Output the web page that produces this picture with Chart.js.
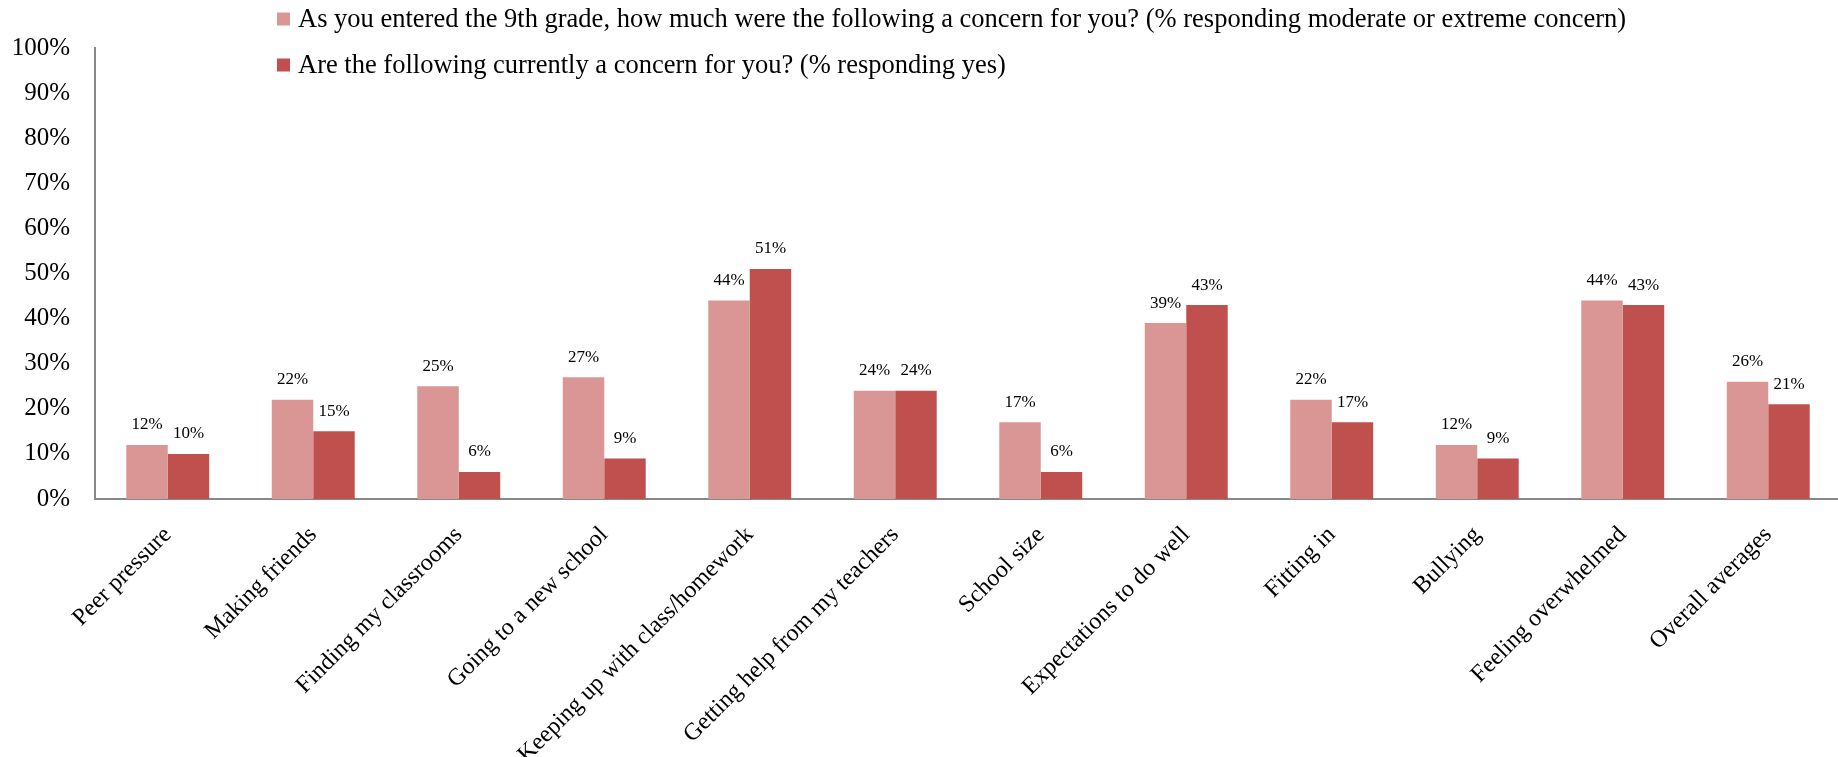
<!DOCTYPE html>
<html>
<head>
<meta charset="utf-8">
<script src="https://cdn.jsdelivr.net/npm/chart.js@4"></script>
<style>
    html, body { margin: 0; padding: 0; background: #fff; overflow: hidden; }
    .wrap { width: 1838px; height: 757px; overflow: hidden; }
    .box { width: 1841px; height: 757px; }
</style>
</head>
<body>
<div class="wrap"><div class="box"><canvas id="concernChart"></canvas></div></div>
<script>
const categories = ['Peer pressure', 'Making friends', 'Finding my classrooms', 'Going to a new school',
    'Keeping up with class/homework', 'Getting help from my teachers', 'School size',
    'Expectations to do well', 'Fitting in', 'Bullying', 'Feeling overwhelmed', 'Overall averages'];
const enteredLabel = 'As you entered the 9th grade, how much were the following a concern for you? (% responding moderate or extreme concern)';
const currentLabel = 'Are the following currently a concern for you? (% responding yes)';
const enteredValues = [12, 22, 25, 27, 44, 24, 17, 39, 22, 12, 44, 26];
const currentValues = [10, 15, 6, 9, 51, 24, 6, 43, 17, 9, 43, 21];
const yTicks = [0, 10, 20, 30, 40, 50, 60, 70, 80, 90, 100];

const serif = '"Liberation Serif", "Times New Roman", serif';

// Value labels above each bar
const valueLabels = {
    id: 'valueLabels',
    afterDatasetsDraw(chart) {
        const ctx = chart.ctx;
        ctx.save();
        ctx.font = '17px ' + serif;
        ctx.fillStyle = '#000';
        ctx.textAlign = 'center';
        ctx.textBaseline = 'middle';
        chart.data.datasets.forEach((ds, i) => {
            chart.getDatasetMeta(i).data.forEach((bar, j) => {
                ctx.fillText(ds.data[j] + '%', bar.x, bar.y - 20);
            });
        });
        ctx.restore();
    }
};

// Stacked legend, left aligned above the plot
const stackedLegend = {
    id: 'stackedLegend',
    afterDraw(chart) {
        const ctx = chart.ctx;
        ctx.save();
        ctx.font = '26.5px ' + serif;
        ctx.textBaseline = 'middle';
        chart.data.datasets.forEach((ds, i) => {
            const y = 19 + i * 46;
            ctx.fillStyle = ds.backgroundColor;
            ctx.fillRect(277, y - 6.5, 13, 13);
            ctx.fillStyle = '#000';
            ctx.fillText(ds.label, 298, y + 1);
        });
        ctx.restore();
    }
};

new Chart(document.getElementById('concernChart'), {
    type: 'bar',
    data: {
        labels: categories,
        datasets: [{
            label: enteredLabel,
            data: enteredValues,
            backgroundColor: '#D99694',
            barPercentage: 1.0,
            categoryPercentage: 0.57
        }, {
            label: currentLabel,
            data: currentValues,
            backgroundColor: '#C0504D',
            barPercentage: 1.0,
            categoryPercentage: 0.57
        }]
    },
    options: {
        responsive: true,
        maintainAspectRatio: false,
        animation: false,
        layout: { padding: { top: 48, left: 0, right: 0, bottom: 0 } },
        plugins: {
            legend: { display: false },
            tooltip: { enabled: false }
        },
        scales: {
            y: {
                min: 0,
                max: 100,
                afterFit: (scale) => { scale.width = 95; },
                afterBuildTicks: (scale) => { scale.ticks = yTicks.map(v => ({ value: v })); },
                grid: { display: false, drawTicks: false },
                border: { color: '#888', width: 2 },
                ticks: {
                    padding: 25,
                    color: '#000',
                    font: { family: serif, size: 25 },
                    callback: (v) => v + '%'
                }
            },
            x: {
                afterFit: (scale) => { scale.height = 258; },
                grid: { display: false, drawTicks: false },
                border: { color: '#888', width: 2 },
                ticks: {
                    minRotation: 45,
                    maxRotation: 45,
                    padding: 22,
                    color: '#000',
                    font: { family: serif, size: 24 }
                }
            }
        }
    },
    plugins: [valueLabels, stackedLegend]
});
</script>
</body>
</html>
